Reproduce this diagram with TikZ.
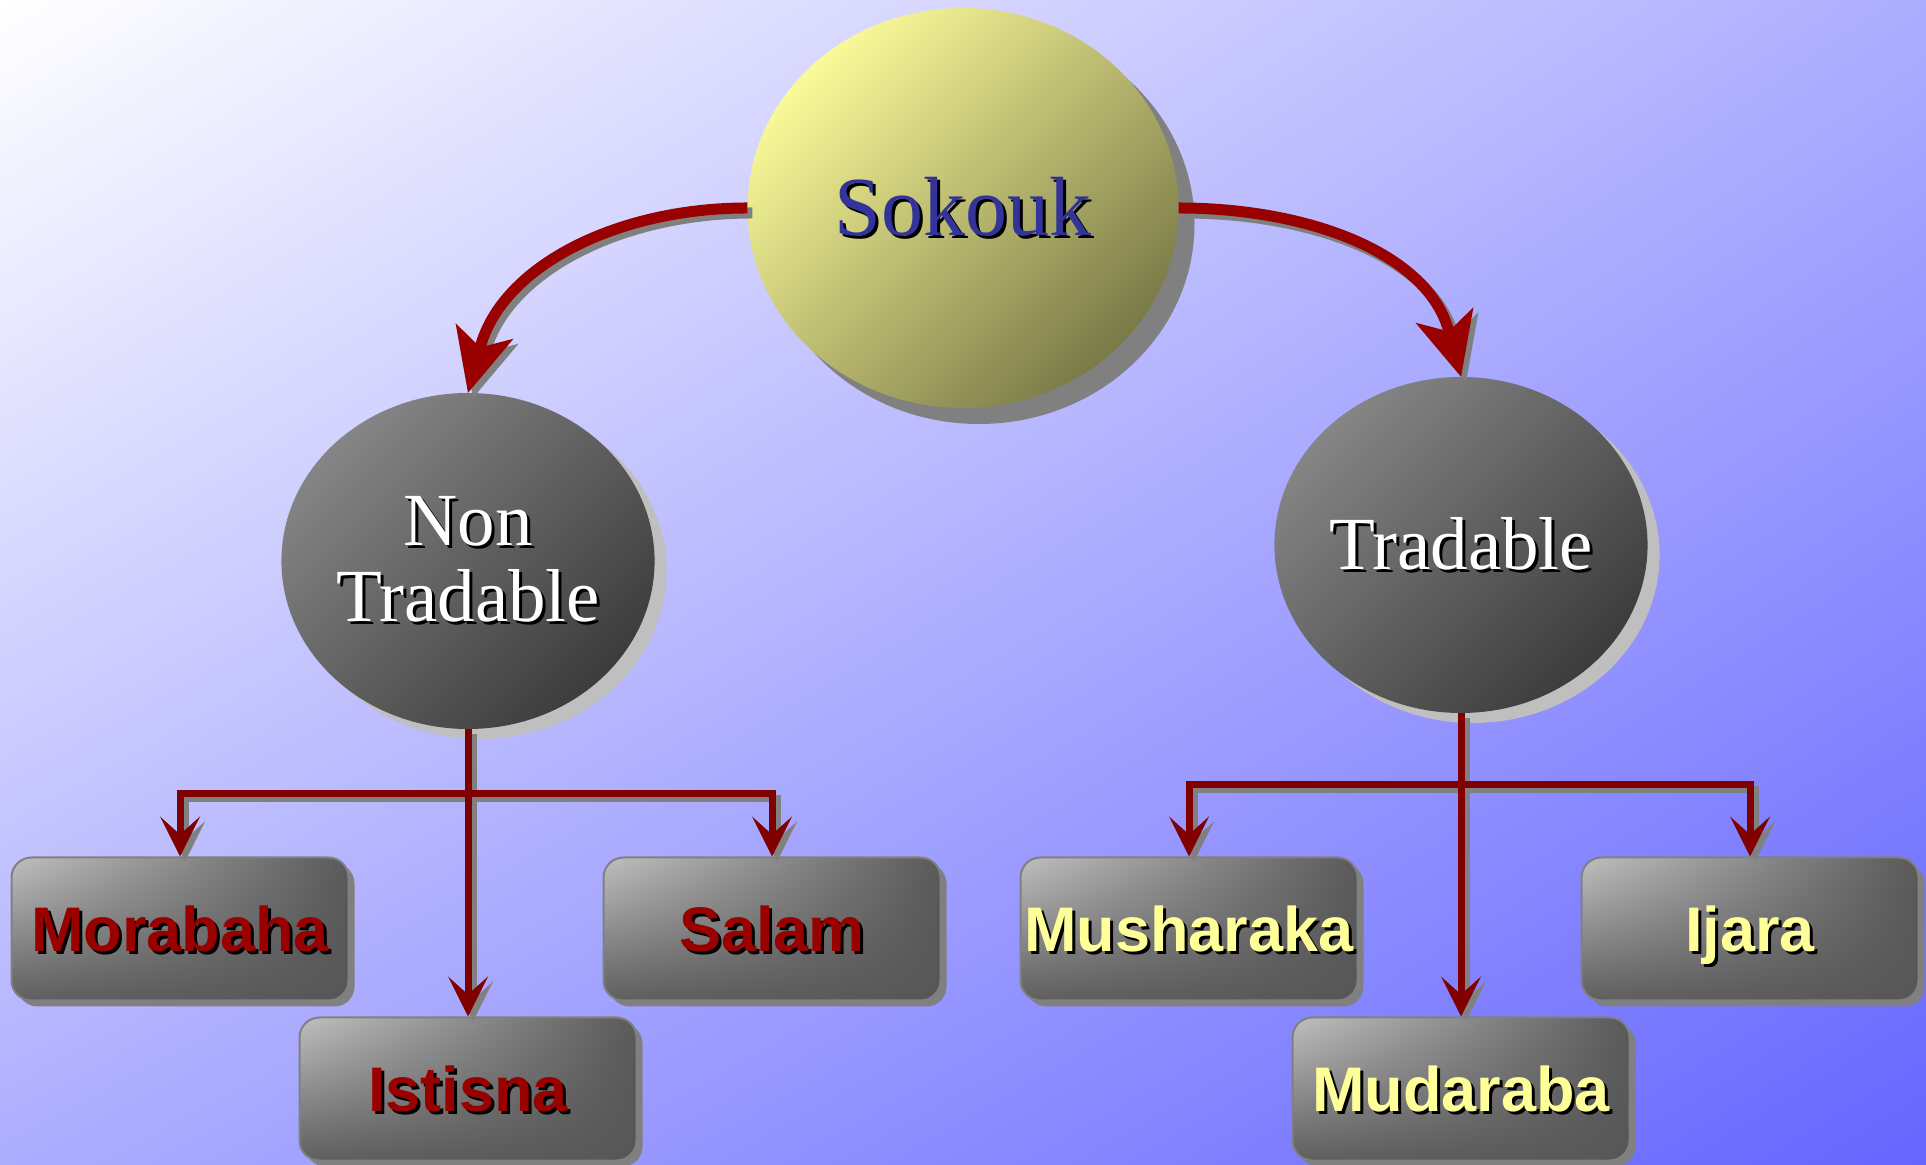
\documentclass[tikz,border=0pt]{standalone}
\usepackage{fontspec}
\setmainfont{Liberation Serif}
\newfontfamily\labelfont{Liberation Sans}
\usetikzlibrary{shapes.geometric,shadows,shadings,arrows.meta}

\definecolor{bgcorner}{HTML}{ADADFF}
\definecolor{bgdeep}{HTML}{6666FF}
\definecolor{sokyellow}{HTML}{FAFA99}
\definecolor{sokolive}{HTML}{7A7A48}
\definecolor{sokblue}{HTML}{333399}
\definecolor{ovaltop}{HTML}{858585}
\definecolor{ovalbottom}{HTML}{3C3C3C}
\definecolor{curvered}{HTML}{990000}
\definecolor{linered}{HTML}{800000}
\definecolor{labelred}{HTML}{990000}
\definecolor{labelyellow}{HTML}{FFFF99}
\definecolor{linkshadow}{HTML}{808080}

% text with a small black shadow behind it
\newcommand\shadowed[2]{\leavevmode\rlap{\hspace*{3pt}\raisebox{-3pt}{\color{black}#2}}{\color{#1}#2}}

\tikzset{
    sokoval/.style={ellipse, inner sep=0pt, minimum width=431pt, minimum height=400pt,
        top color=sokyellow, bottom color=sokolive, shading angle=45,
        drop shadow={shadow xshift=16pt, shadow yshift=-16pt, fill=linkshadow, opacity=1},
        font=\fontsize{84}{90}\selectfont},
    oval/.style={ellipse, inner sep=0pt, minimum width=368pt, minimum height=336pt,
        top color=ovaltop, bottom color=ovalbottom, shading angle=45,
        drop shadow={shadow xshift=12pt, shadow yshift=-10pt, fill=black!25, opacity=1},
        font=\fontsize{75}{76}\selectfont, align=center},
    deal/.style={rectangle, rounded corners=20pt, inner sep=0pt,
        minimum width=337pt, minimum height=143pt, draw=linkshadow, line width=2pt,
        upper left=black!25, upper right=black!65, lower left=black!63, lower right=black!66,
        drop shadow={shadow xshift=6pt, shadow yshift=-6pt, fill=linkshadow, opacity=1},
        font=\labelfont\bfseries\fontsize{63}{70}\selectfont, text height=45pt, text depth=0pt},
    bigarrow/.style={draw=curvered, line width=11pt,
        -{Stealth[length=64pt, width=60pt, inset=17pt, line width=0pt]}},
    bigshadow/.style={bigarrow, draw=linkshadow},
    smallarrow/.style={draw=linered, line width=7pt,
        -{Stealth[length=40pt, width=40pt, inset=18pt, line width=0pt]}},
    smallshadow/.style={smallarrow, draw=linkshadow},
}

\begin{document}
\begin{tikzpicture}[x=1pt,y=1pt]
    \useasboundingbox (0,0) rectangle (1926,1164);
    \shade[upper left=white, upper right=bgcorner, lower left=bgcorner, lower right=bgdeep]
        (0,0) rectangle (1926,1164);

    % ovals
    \node[sokoval] (sok) at (963,956) {\shadowed{sokblue}{Sokouk}};
    \node[oval] (nt) at (468,603) {\shadowed{white}{Non}\\\shadowed{white}{Tradable}};
    \node[oval] (tr) at (1461,619) {\shadowed{white}{Tradable}};

    % contracts
    \node[deal] (mor) at (180,235) {\shadowed{labelred}{Morabaha}};
    \node[deal] (sal) at (772,235) {\shadowed{labelred}{Salam}};
    \node[deal] (ist) at (468,75) {\shadowed{labelred}{Istisna}};
    \node[deal] (mus) at (1189,235) {\shadowed{labelyellow}{Musharaka}};
    \node[deal] (ija) at (1750,235) {\shadowed{labelyellow}{Ijara}};
    \node[deal] (mud) at (1461,75) {\shadowed{labelyellow}{Mudaraba}};

    \coordinate (ntbar) at (468,370);
    \coordinate (trbar) at (1461,379);

    % shadows of the links
    \begin{scope}[transform canvas={shift={(5pt,-5pt)}}]
        \draw[bigshadow] (sok.west) to[out=180, in=75] (nt.north);
        \draw[bigshadow] (sok.east) to[out=0, in=105] (tr.north);
        \draw[smallshadow] (nt.south) -- (ntbar) -| (mor.north);
        \draw[smallshadow] (nt.south) -- (ntbar) -| (sal.north);
        \draw[smallshadow] (nt.south) -- (ist.north);
        \draw[smallshadow] (tr.south) -- (trbar) -| (mus.north);
        \draw[smallshadow] (tr.south) -- (trbar) -| (ija.north);
        \draw[smallshadow] (tr.south) -- (mud.north);
    \end{scope}

    % links
    \draw[bigarrow] (sok.west) to[out=180, in=75] (nt.north);
    \draw[bigarrow] (sok.east) to[out=0, in=105] (tr.north);
    \draw[smallarrow] (nt.south) -- (ntbar) -| (mor.north);
    \draw[smallarrow] (nt.south) -- (ntbar) -| (sal.north);
    \draw[smallarrow] (nt.south) -- (ist.north);
    \draw[smallarrow] (tr.south) -- (trbar) -| (mus.north);
    \draw[smallarrow] (tr.south) -- (trbar) -| (ija.north);
    \draw[smallarrow] (tr.south) -- (mud.north);
\end{tikzpicture}
\end{document}
